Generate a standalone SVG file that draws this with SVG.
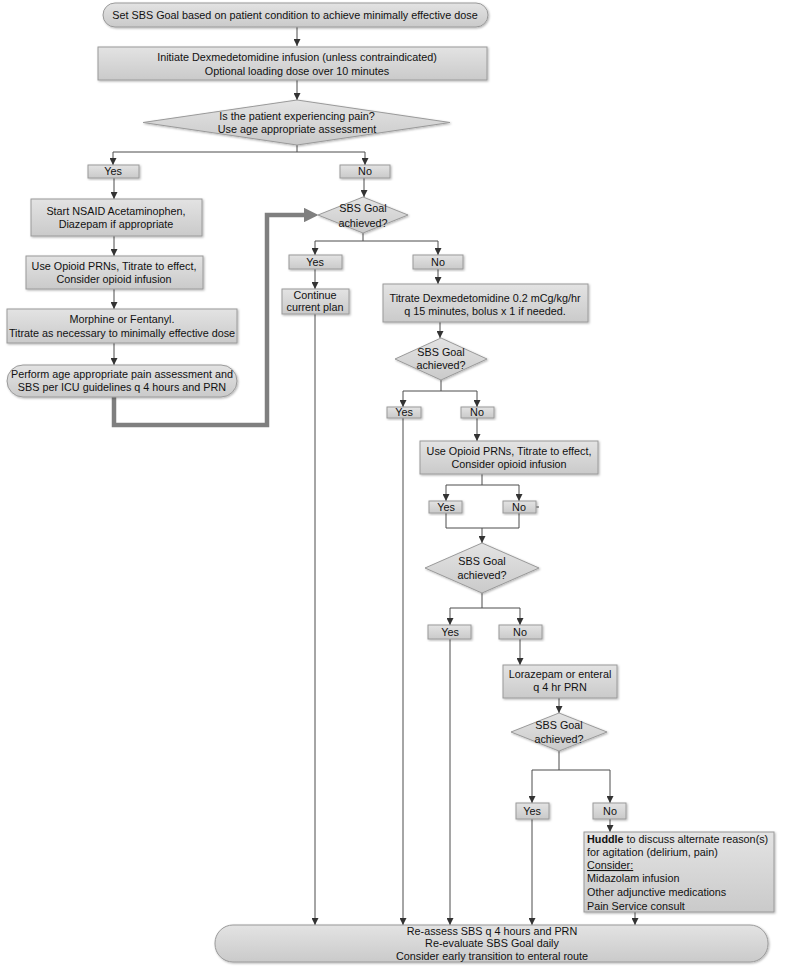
<svg xmlns="http://www.w3.org/2000/svg" width="800" height="968" viewBox="0 0 800 968">
<defs>
<linearGradient id="g" x1="0" y1="0" x2="0" y2="1"><stop offset="0" stop-color="#e3e3e3"/><stop offset="1" stop-color="#cacaca"/></linearGradient>
<marker id="a" viewBox="0 0 10 10" refX="10" refY="5" markerWidth="7" markerHeight="7" orient="auto" markerUnits="userSpaceOnUse"><path d="M0,0 L10,5 L0,10 z" fill="#333"/></marker>
<marker id="ab" viewBox="0 0 10 10" refX="0" refY="5" markerWidth="3.2" markerHeight="3.2" orient="auto"><path d="M0,0 L10,5 L0,10 z" fill="#7f7f7f"/></marker>
<filter id="s" x="-5%" y="-10%" width="115%" height="130%"><feDropShadow dx="1" dy="1" stdDeviation="0.8" flood-color="#000" flood-opacity="0.3"/></filter>
</defs>
<style>
.n{fill:url(#g);stroke:#9a9a9a;stroke-width:1;filter:url(#s)}
.t{font-family:"Liberation Sans",Arial,sans-serif;font-size:10.8px;fill:#111;text-anchor:middle}
.l{text-anchor:start}
.c{fill:none;stroke:#4d4d4d;stroke-width:1}
.ca{fill:none;stroke:#4d4d4d;stroke-width:1;marker-end:url(#a)}
</style>

<g id="connectors">
<path class="ca" d="M297,27 V46"/>
<path class="ca" d="M297,80 V100"/>
<path class="c" d="M297,145 V152 M113,152 H365"/>
<path class="ca" d="M113,152 V165"/>
<path class="ca" d="M365,152 V165"/>
<path class="ca" d="M114,178 V199"/>
<path class="ca" d="M114,236 V256"/>
<path class="ca" d="M114,289 V309"/>
<path class="ca" d="M114,343 V365"/>
<path d="M114,397 V425 H267 V215 H304" fill="none" stroke="#7f7f7f" stroke-width="4.5" marker-end="url(#ab)"/>
<path class="ca" d="M364,178 V197"/>
<path class="c" d="M363,233 V241 M315,241 H438"/>
<path class="ca" d="M315,241 V255"/>
<path class="ca" d="M438,241 V255"/>
<path class="ca" d="M315,269 V289"/>
<path class="ca" d="M438,269 V284"/>
<path class="ca" d="M315,314 V925"/>
<path class="ca" d="M440,322 V338"/>
<path class="c" d="M441,380 V391 M403,391 H477"/>
<path class="ca" d="M403,391 V407"/>
<path class="ca" d="M477,391 V407"/>
<path class="ca" d="M403,418 V925"/>
<path class="ca" d="M477,418 V441"/>
<path class="c" d="M482,474 V485 M446,485 H519"/>
<path class="ca" d="M446,485 V501"/>
<path class="ca" d="M519,485 V501"/>
<path class="c" d="M446,513 V528 H519 V513 M536,507 H539"/>
<path class="ca" d="M482,528 V543"/>
<path class="c" d="M482,593 V608 M450,608 H520"/>
<path class="ca" d="M450,608 V625"/>
<path class="ca" d="M520,608 V625"/>
<path class="ca" d="M450,639 V925"/>
<path class="ca" d="M520,639 V665"/>
<path class="ca" d="M559,698 V713"/>
<path class="c" d="M559,751 V770 M532,770 H610"/>
<path class="ca" d="M532,770 V803"/>
<path class="ca" d="M610,770 V803"/>
<path class="ca" d="M532,819 V925"/>
<path class="ca" d="M610,819 V832"/>
<path class="ca" d="M635,912 V925"/>
</g>

<g id="n-start"><rect class="n" x="103" y="3" width="385" height="24" rx="12"/><text class="t" x="295" y="19">Set SBS Goal based on patient condition to achieve minimally effective dose</text></g>
<g id="n-dex"><rect class="n" x="98" y="47" width="389" height="33"/><text class="t" x="297" y="61">Initiate Dexmedetomidine infusion (unless contraindicated)</text><text class="t" x="297" y="75">Optional loading dose over 10 minutes</text></g>
<g id="n-pain"><polygon class="n" points="297,100 450,122.5 297,145 143,122.5"/><text class="t" x="297" y="120">Is the patient experiencing pain?</text><text class="t" x="297" y="133">Use age appropriate assessment</text></g>
<g id="n-yes0"><rect class="n" x="88" y="165" width="51" height="13"/><text class="t" x="113" y="175">Yes</text></g>
<g id="n-no0"><rect class="n" x="340" y="165" width="50" height="13"/><text class="t" x="365" y="175">No</text></g>
<g id="n-nsaid"><rect class="n" x="31" y="199" width="171" height="37"/><text class="t" x="116" y="215">Start NSAID Acetaminophen,</text><text class="t" x="116" y="228">Diazepam if appropriate</text></g>
<g id="n-opioid1"><rect class="n" x="26" y="256" width="177" height="33"/><text class="t" x="114" y="270">Use Opioid PRNs, Titrate to effect,</text><text class="t" x="114" y="283">Consider opioid infusion</text></g>
<g id="n-morph"><rect class="n" x="7" y="309" width="230" height="34"/><text class="t" x="122" y="323">Morphine or Fentanyl.</text><text class="t" x="122" y="337">Titrate as necessary to minimally effective dose</text></g>
<g id="n-perform"><rect class="n" x="7" y="365" width="230" height="32" rx="16"/><text class="t" x="122" y="378">Perform age appropriate pain assessment and</text><text class="t" x="122" y="391">SBS per ICU guidelines q 4 hours and PRN</text></g>
<g id="n-d1"><polygon class="n" points="363,197 408,215 363,233 318,215"/><text class="t" x="363" y="212">SBS Goal</text><text class="t" x="363" y="227">achieved?</text></g>
<g id="n-yes1"><rect class="n" x="289" y="255" width="53" height="14"/><text class="t" x="315" y="266">Yes</text></g>
<g id="n-no1"><rect class="n" x="413" y="255" width="50" height="14"/><text class="t" x="438" y="266">No</text></g>
<g id="n-cont"><rect class="n" x="282" y="289" width="67" height="25"/><text class="t" x="315" y="299">Continue</text><text class="t" x="315" y="311">current plan</text></g>
<g id="n-titrate"><rect class="n" x="383" y="284" width="205" height="38"/><text class="t" x="485" y="302">Titrate Dexmedetomidine 0.2 mCg/kg/hr</text><text class="t" x="485" y="315">q 15 minutes, bolus x 1 if needed.</text></g>
<g id="n-d2"><polygon class="n" points="441,338 487,359 441,380 395,359"/><text class="t" x="441" y="356">SBS Goal</text><text class="t" x="441" y="369">achieved?</text></g>
<g id="n-yes2"><rect class="n" x="387" y="407" width="34" height="11"/><text class="t" x="404" y="416">Yes</text></g>
<g id="n-no2"><rect class="n" x="461" y="407" width="33" height="11"/><text class="t" x="477" y="416">No</text></g>
<g id="n-opioid2"><rect class="n" x="420" y="441" width="178" height="33"/><text class="t" x="509" y="455">Use Opioid PRNs, Titrate to effect,</text><text class="t" x="509" y="468">Consider opioid infusion</text></g>
<g id="n-yes3"><rect class="n" x="429" y="501" width="33" height="12"/><text class="t" x="446" y="511">Yes</text></g>
<g id="n-no3"><rect class="n" x="503" y="501" width="33" height="12"/><text class="t" x="519" y="511">No</text></g>
<g id="n-d3"><polygon class="n" points="482,543 539,568 482,593 425,568"/><text class="t" x="482" y="565">SBS Goal</text><text class="t" x="482" y="579">achieved?</text></g>
<g id="n-yes4"><rect class="n" x="428" y="625" width="43" height="14"/><text class="t" x="450" y="636">Yes</text></g>
<g id="n-no4"><rect class="n" x="499" y="625" width="43" height="14"/><text class="t" x="520" y="636">No</text></g>
<g id="n-loraz"><rect class="n" x="503" y="665" width="114" height="33"/><text class="t" x="560" y="678">Lorazepam or enteral</text><text class="t" x="560" y="691">q 4 hr PRN</text></g>
<g id="n-d4"><polygon class="n" points="559,713 607,732 559,751 511,732"/><text class="t" x="559" y="729">SBS Goal</text><text class="t" x="559" y="743">achieved?</text></g>
<g id="n-yes5"><rect class="n" x="516" y="803" width="33" height="16"/><text class="t" x="532" y="815">Yes</text></g>
<g id="n-no5"><rect class="n" x="593" y="803" width="33" height="16"/><text class="t" x="610" y="815">No</text></g>
<g id="n-huddle"><rect class="n" x="584" y="832" width="190" height="80"/>
<text class="t l" x="587" y="843"><tspan font-weight="bold">Huddle</tspan> to discuss alternate reason(s)</text>
<text class="t l" x="587" y="856">for agitation (delirium, pain)</text>
<text class="t l" x="587" y="869" text-decoration="underline">Consider:</text>
<text class="t l" x="587" y="882">Midazolam infusion</text>
<text class="t l" x="587" y="896">Other adjunctive medications</text>
<text class="t l" x="587" y="910">Pain Service consult</text></g>
<g id="n-end"><rect class="n" x="215" y="925" width="553" height="37" rx="18"/><text class="t" x="492" y="935">Re-assess SBS q 4 hours and PRN</text><text class="t" x="492" y="947">Re-evaluate SBS Goal daily</text><text class="t" x="492" y="960">Consider early transition to enteral route</text></g>
</svg>
